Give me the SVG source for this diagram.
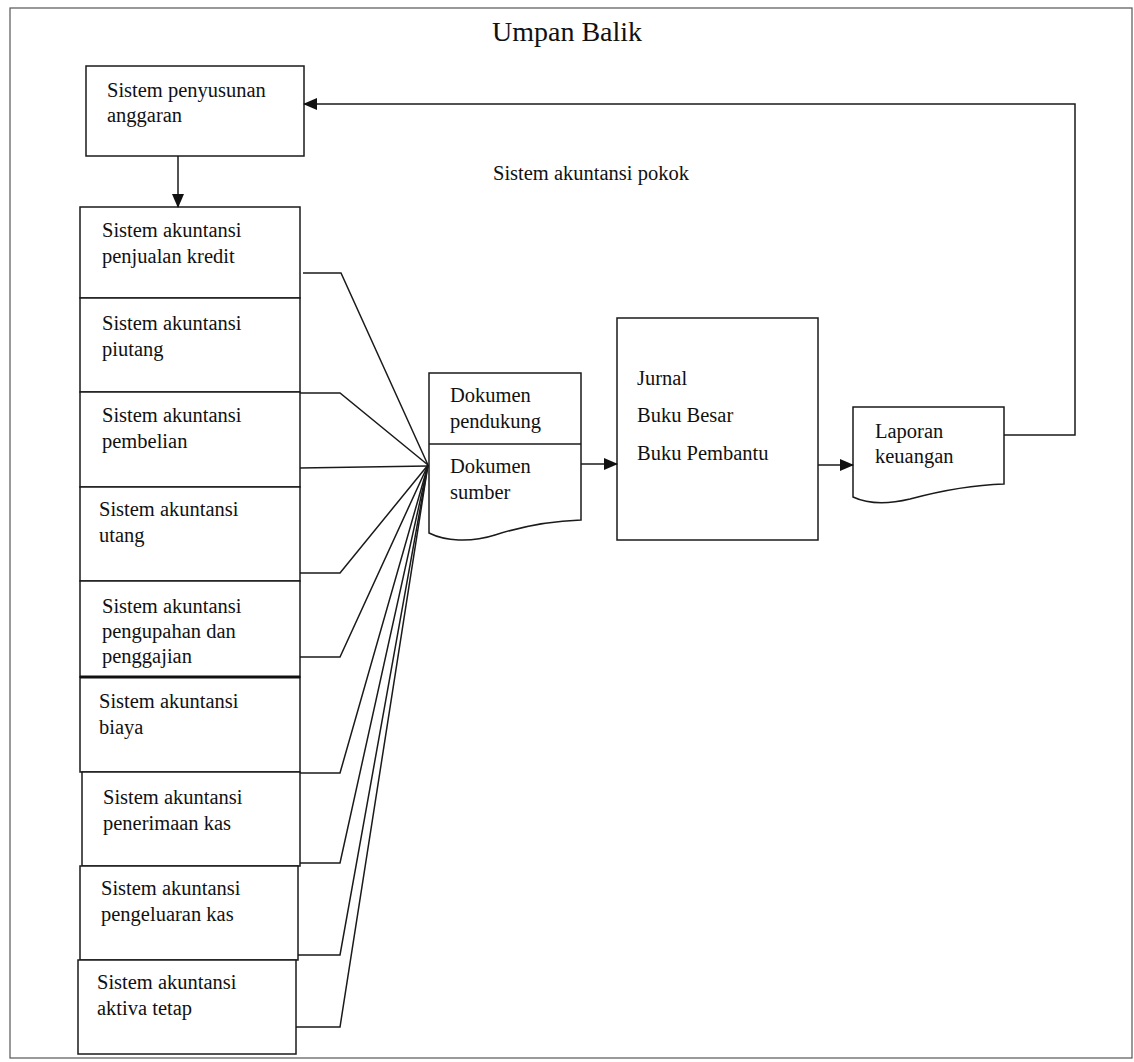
<svg xmlns="http://www.w3.org/2000/svg" width="1134" height="1062" viewBox="0 0 1134 1062">
<style>
.b{fill:#fff;stroke:#1a1a1a;stroke-width:1.5}
.t{font-family:"Liberation Serif","Times New Roman",serif;font-size:20.5px;fill:#111}
.c{fill:none;stroke:#1a1a1a;stroke-width:1.5}
</style>
<defs>
<marker id="ah" markerWidth="14" markerHeight="12" refX="13" refY="6" orient="auto" markerUnits="userSpaceOnUse">
<path d="M0,0 L14,6 L0,12 Z" fill="#111"/>
</marker>
</defs>
<rect x="0" y="0" width="1134" height="1062" fill="#fff"/>
<rect x="10" y="8" width="1122" height="1050" fill="none" stroke="#555" stroke-width="1.2"/>
<text x="567" y="41" text-anchor="middle" class="t" style="font-size:28px">Umpan Balik</text>
<text x="493" y="180" class="t">Sistem akuntansi pokok</text>

<g id="anggaran"><rect class="b" x="86" y="66" width="218" height="90"/>
<text class="t" x="107" y="97">Sistem penyusunan</text><text class="t" x="107" y="122">anggaran</text></g>

<g id="s1"><rect class="b" x="80" y="207" width="220" height="91"/>
<text class="t" x="102" y="237">Sistem akuntansi</text><text class="t" x="102" y="263">penjualan kredit</text></g>
<g id="s2"><rect class="b" x="80" y="298" width="220" height="94"/>
<text class="t" x="102" y="330">Sistem akuntansi</text><text class="t" x="102" y="356">piutang</text></g>
<g id="s3"><rect class="b" x="80" y="392" width="220" height="95"/>
<text class="t" x="102" y="422">Sistem akuntansi</text><text class="t" x="102" y="448">pembelian</text></g>
<g id="s4"><rect class="b" x="80" y="487" width="220" height="94"/>
<text class="t" x="99" y="516">Sistem akuntansi</text><text class="t" x="99" y="542">utang</text></g>
<g id="s5"><rect class="b" x="80" y="581" width="220" height="96"/>
<text class="t" x="102" y="613">Sistem akuntansi</text><text class="t" x="102" y="638">pengupahan dan</text><text class="t" x="102" y="663">penggajian</text></g>
<g id="s6"><rect class="b" x="80" y="677" width="220" height="95"/>
<line x1="80" y1="677" x2="300" y2="677" stroke="#111" stroke-width="3"/>
<text class="t" x="99" y="708">Sistem akuntansi</text><text class="t" x="99" y="734">biaya</text></g>
<g id="s7"><rect class="b" x="82" y="772" width="218" height="94"/>
<text class="t" x="103" y="804">Sistem akuntansi</text><text class="t" x="103" y="830">penerimaan kas</text></g>
<g id="s8"><rect class="b" x="80" y="866" width="218" height="94"/>
<text class="t" x="101" y="895">Sistem akuntansi</text><text class="t" x="101" y="921">pengeluaran kas</text></g>
<g id="s9"><rect class="b" x="78" y="960" width="218" height="94"/>
<text class="t" x="97" y="989">Sistem akuntansi</text><text class="t" x="97" y="1015">aktiva tetap</text></g>

<g id="dokumen"><path class="b" d="M429,373 H581 V520 C550,521 520,527 495,535 C470,543 445,541 429,533 Z"/>
<line class="c" x1="429" y1="444" x2="581" y2="444"/>
<text class="t" x="450" y="402">Dokumen</text><text class="t" x="450" y="428">pendukung</text>
<text class="t" x="450" y="473">Dokumen</text><text class="t" x="450" y="499">sumber</text></g>

<g id="jurnal"><rect class="b" x="617" y="318" width="201" height="222"/>
<text class="t" x="637" y="385">Jurnal</text><text class="t" x="637" y="422">Buku Besar</text><text class="t" x="637" y="460">Buku Pembantu</text></g>

<g id="laporan"><path class="b" d="M853,407 H1004 V484 C970,485 940,491 910,499 C885,505 868,504 853,497 Z"/>
<text class="t" x="875" y="438">Laporan</text><text class="t" x="875" y="463">keuangan</text></g>

<g id="connectors">
<line class="c" x1="178" y1="156" x2="178" y2="207" marker-end="url(#ah)"/>
<polyline class="c" points="1004,435 1075,435 1075,104 304,104" marker-end="url(#ah)"/>
<line class="c" x1="581" y1="464" x2="617" y2="464" marker-end="url(#ah)"/>
<line class="c" x1="818" y1="465" x2="853" y2="465" marker-end="url(#ah)"/>
<polyline class="c" points="303,273 341,273 428,465"/>
<polyline class="c" points="300,393 340,393 428,465"/>
<polyline class="c" points="300,468 428,466"/>
<polyline class="c" points="300,573 340,573 428,465"/>
<polyline class="c" points="300,657 340,657 428,465"/>
<polyline class="c" points="300,773 340,773 428,465"/>
<polyline class="c" points="300,863 340,863 428,465"/>
<polyline class="c" points="298,955 340,955 428,465"/>
<polyline class="c" points="296,1027 340,1027 428,465"/>
</g>
</svg>
